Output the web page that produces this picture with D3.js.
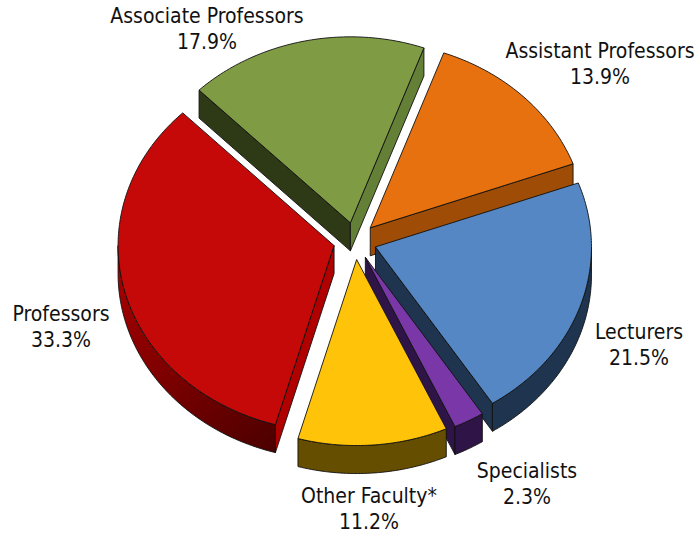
<!DOCTYPE html>
<html lang="en">
  <head>
    <meta charset="utf-8">
    <title>Faculty by Rank</title>
    <script src="https://d3js.org/d3.v7.min.js"></script>
    <style>
      html, body { margin: 0; padding: 0; background: #fff; }
      svg { display: block; }
      text { font-family: "DejaVu Sans Condensed", "DejaVu Sans", sans-serif; font-stretch: condensed; font-size: 21px; fill: #111; text-anchor: middle; }
    </style>
  </head>
  <body>
    <script type="text/javascript">
    // Chart data, clockwise from the first slice
    var categories = ["Assistant Professors", "Lecturers", "Specialists", "Other Faculty*", "Professors", "Associate Professors"];
    var shares = [13.9, 21.5, 2.3, 11.2, 33.3, 17.9];
    var shareLabels = ["13.9%", "21.5%", "2.3%", "11.2%", "33.3%", "17.9%"];

    // Colours per slice
    var topColors = ["#e8710f", "#5487c4", "#7a37a8", "#ffc409", "#c50808", "#7f9c45"];
    var startWall = ["#9e4c06", "#1e344f", "#2e1447", "#664e00", "#b00000", "#2e3a15"];
    var endWall = ["#9e4c06", "#1e344f", "#2e1447", "#664e00", "#b00000", "#647f36"];
    var rimColors = ["#9e4c06", "#1e344f", "#2e1447", "#664e00", "url(#rimRed)", "#2e3a15"];

    // Label centres and first baselines
    var labelX = [600, 639, 527, 369, 61, 207];
    var labelY = [58, 339, 478, 503, 321, 23];

    var w = 698;
    var h = 539;
    var depth = 28;
    var explode = 0.1;
    var firstAngle = 19.9 * Math.PI / 180;

    var svg = d3.select("body")
                .append("svg")
                .attr("width", w)
                .attr("height", h);

    // Red rim goes darker towards the bottom of the pie
    var grad = svg.append("defs")
                  .append("linearGradient")
                  .attr("id", "rimRed")
                  .attr("gradientUnits", "userSpaceOnUse")
                  .attr("x1", 118).attr("y1", 260)
                  .attr("x2", 276).attr("y2", 450);
    grad.append("stop").attr("offset", 0).attr("stop-color", "#aa0000");
    grad.append("stop").attr("offset", 1).attr("stop-color", "#4c0000");

    // Unit circle to the tilted screen ellipse
    var xScale = d3.scaleLinear().domain([-1, 1]).range([355 - 216, 355 + 216]);
    var yScale = d3.scaleLinear().domain([-1, 1]).range([241 + 186, 241 - 186]);

    var pie = d3.pie()
                .sort(null)
                .startAngle(firstAngle)
                .endAngle(firstAngle + 2 * Math.PI);

    var line = d3.line()
                 .x(function(p) { return p[0]; })
                 .y(function(p) { return p[1]; });

    // Point on a slice at radius r and given angle, shifted by the slice explosion
    var project = function(d, r, a, drop) {
      var mid = (d.startAngle + d.endAngle) / 2;
      var ux = explode * Math.sin(mid) + r * Math.sin(a);
      var uy = explode * Math.cos(mid) + r * Math.cos(a);
      return [xScale(ux), yScale(uy) + drop];
    };

    var arcAngles = function(a0, a1) {
      var n = Math.max(2, Math.ceil((a1 - a0) * 60));
      return d3.range(n + 1).map(function(i) { return a0 + (a1 - a0) * i / n; });
    };

    var slices = pie(shares);

    var drawFace = function(points, color) {
      svg.append("path")
         .attr("d", line(points) + "Z")
         .attr("fill", color)
         .attr("stroke", "#111")
         .attr("stroke-width", 0.9)
         .attr("stroke-linejoin", "round");
    };

    slices.forEach(function(d, i) {
      // Radial cut faces, only when they turn towards the viewer
      if (Math.sin(d.startAngle) < 0) {
        drawFace([project(d, 0, d.startAngle, 0), project(d, 1, d.startAngle, 0),
                  project(d, 1, d.startAngle, depth), project(d, 0, d.startAngle, depth)], startWall[i]);
      }
      if (Math.sin(d.endAngle) > 0) {
        drawFace([project(d, 0, d.endAngle, 0), project(d, 1, d.endAngle, 0),
                  project(d, 1, d.endAngle, depth), project(d, 0, d.endAngle, depth)], endWall[i]);
      }

      // Outer rim, front half of the ellipse only
      var a0 = Math.max(d.startAngle, Math.PI / 2);
      var a1 = Math.min(d.endAngle, 3 * Math.PI / 2);
      if (a1 > a0) {
        var angles = arcAngles(a0, a1);
        var upper = angles.map(function(a) { return project(d, 1, a, 0); });
        var lower = angles.map(function(a) { return project(d, 1, a, depth); }).reverse();
        drawFace(upper.concat(lower), rimColors[i]);
      }

      // Top face
      var rim = arcAngles(d.startAngle, d.endAngle).map(function(a) { return project(d, 1, a, 0); });
      drawFace([project(d, 0, d.startAngle, 0)].concat(rim), topColors[i]);
    });

    // Labels
    var labels = svg.selectAll("g.label")
                    .data(categories)
                    .enter()
                    .append("g")
                    .attr("class", "label");

    labels.append("text")
          .attr("x", function(d, i) { return labelX[i]; })
          .attr("y", function(d, i) { return labelY[i]; })
          .text(function(d) { return d; });

    labels.append("text")
          .attr("x", function(d, i) { return labelX[i]; })
          .attr("y", function(d, i) { return labelY[i] + 25.5; })
          .text(function(d, i) { return shareLabels[i]; });
    </script>
  </body>
</html>
